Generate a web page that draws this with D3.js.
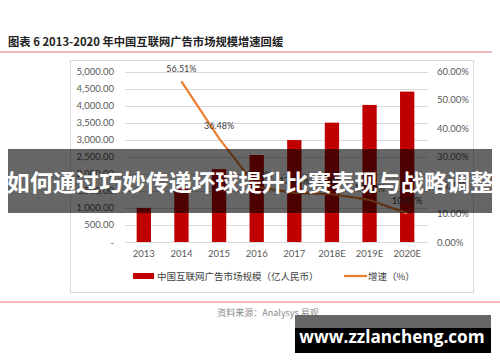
<!DOCTYPE html>
<html>
<head>
<meta charset="utf-8">
<script src="https://cdn.jsdelivr.net/npm/d3@7"></script>
<style>
  body { margin: 0; background: #fff; }
  svg { display: block; }
</style>
</head>
<body>
<svg id="chart" width="500" height="362"></svg>
<script>
// data
const years = ['2013', '2014', '2015', '2016', '2017', '2018E', '2019E', '2020E'];
const marketSize = [1000, 1565, 2136, 2550, 2990, 3500, 4020, 4410];
const growthYears = ['2014', '2015', '2016', '2017', '2018E', '2019E', '2020E'];
const growth = [56.51, 36.48, 19.40, 17.30, 16.80, 14.80, 10.07];
const leftTicks = [0, 500, 1000, 1500, 2000, 2500, 3000, 3500, 4000, 4500, 5000];
const rightTicks = [0, 10, 20, 30, 40, 50, 60];

const title = '图表 6 2013-2020 年中国互联网广告市场规模增速回缓';
const legendBar = '中国互联网广告市场规模（亿人民币）';
const legendLine = '增速（%）';
const source = '资料来源：Analysys 易观';
const banner = '如何通过巧妙传递坏球提升比赛表现与战略调整';
const site = 'www.zzlancheng.com';

const svg = d3.select('#chart');
const numFont = 'Lato, "Open Sans", sans-serif';
const cjkFont = '"Noto Sans CJK SC", sans-serif';

// header
svg.append('text')
    .attr('x', 8).attr('y', 46)
    .attr('font-family', cjkFont).attr('font-weight', 'bold')
    .attr('font-size', 11.3).attr('fill', '#222')
    .text(title);
svg.append('line')
    .attr('x1', 0).attr('x2', 492).attr('y1', 52).attr('y2', 52)
    .attr('stroke', '#e0737c').attr('stroke-width', 1.2);

// chart frame
svg.append('rect')
    .attr('x', 70.5).attr('y', 60.5).attr('width', 403).attr('height', 232)
    .attr('fill', 'none').attr('stroke', '#d9d9d9');

const x = d3.scaleBand().domain(years).range([125, 426]).paddingInner(0.62).paddingOuter(0.31);
const yL = d3.scaleLinear().domain([0, 5000]).range([242, 71.5]);
const yR = d3.scaleLinear().domain([0, 60]).range([242, 71.5]);

// gridlines
svg.append('g')
    .selectAll('line')
    .data(leftTicks)
    .join('line')
    .attr('x1', 125).attr('x2', 428)
    .attr('y1', d => Math.round(yL(d)) + 0.5)
    .attr('y2', d => Math.round(yL(d)) + 0.5)
    .attr('stroke', '#d9d9d9');

// axes
const fmtL = d => d === 0 ? '-' : d3.format(',.2f')(d);
const leftAxis = d3.axisLeft(yL).tickValues(leftTicks).tickFormat(fmtL).tickSize(0).tickPadding(0);
svg.append('g')
    .attr('transform', 'translate(114,0)')
    .call(leftAxis)
    .call(g => g.select('.domain').remove())
    .selectAll('text')
    .attr('font-family', numFont).attr('font-size', 9.5).attr('fill', '#595959');

const rightAxis = d3.axisRight(yR).tickValues(rightTicks).tickFormat(d => d3.format('.2f')(d) + '%').tickSize(0).tickPadding(0);
svg.append('g')
    .attr('transform', 'translate(437,0)')
    .call(rightAxis)
    .call(g => g.select('.domain').remove())
    .selectAll('text')
    .attr('font-family', numFont).attr('font-size', 9.5).attr('fill', '#595959');

const bottomAxis = d3.axisBottom(x).tickSize(0).tickPadding(0);
svg.append('g')
    .attr('transform', 'translate(0,250)')
    .call(bottomAxis)
    .call(g => g.select('.domain').remove())
    .selectAll('text')
    .attr('font-family', numFont).attr('font-size', 9.5).attr('fill', '#595959');

// bars
svg.append('g')
    .selectAll('rect')
    .data(marketSize)
    .join('rect')
    .attr('x', (d, i) => x(years[i]))
    .attr('width', x.bandwidth())
    .attr('y', d => yL(d))
    .attr('height', d => yL(0) - yL(d))
    .attr('fill', '#c00000');

// growth line
const line = d3.line()
    .x((d, i) => x(growthYears[i]) + x.bandwidth() / 2)
    .y(d => yR(d));
svg.append('path')
    .datum(growth)
    .attr('d', line)
    .attr('fill', 'none')
    .attr('stroke', '#ed7d31')
    .attr('stroke-width', 2.2)
    .attr('stroke-linejoin', 'round');

svg.append('g')
    .selectAll('text')
    .data(growth)
    .join('text')
    .attr('x', (d, i) => x(growthYears[i]) + x.bandwidth() / 2)
    .attr('y', d => yR(d) - 9)
    .attr('text-anchor', 'middle')
    .attr('font-family', numFont).attr('font-size', 9).attr('fill', '#404040')
    .text(d => d3.format('.2f')(d) + '%');

// legend
svg.append('rect')
    .attr('x', 133).attr('y', 273).attr('width', 21).attr('height', 6)
    .attr('fill', '#c00000');
svg.append('text')
    .attr('x', 157).attr('y', 280)
    .attr('font-family', cjkFont).attr('font-size', 9.5).attr('fill', '#404040')
    .text(legendBar);
svg.append('line')
    .attr('x1', 344).attr('x2', 367).attr('y1', 276).attr('y2', 276)
    .attr('stroke', '#ed7d31').attr('stroke-width', 2.2);
svg.append('text')
    .attr('x', 368).attr('y', 280)
    .attr('font-family', cjkFont).attr('font-size', 9.5).attr('fill', '#404040')
    .text(legendLine);

// footer
svg.append('line')
    .attr('x1', 0).attr('x2', 500).attr('y1', 302).attr('y2', 302)
    .attr('stroke', '#f2a3aa').attr('stroke-width', 1.5);
svg.append('text')
    .attr('x', 268).attr('y', 316)
    .attr('text-anchor', 'middle')
    .attr('font-family', cjkFont).attr('font-size', 9).attr('fill', '#8c8c8c')
    .text(source);

// overlay banner
svg.append('rect')
    .attr('x', 8).attr('y', 149).attr('width', 484).attr('height', 64)
    .attr('fill', '#000').attr('fill-opacity', 0.6);
svg.append('text')
    .attr('x', 250).attr('y', 191)
    .attr('text-anchor', 'middle')
    .attr('font-family', cjkFont).attr('font-weight', 'bold')
    .attr('font-size', 23.2).attr('fill', '#fff')
    .text(banner);

// watermark box
svg.append('rect')
    .attr('x', 295).attr('y', 315).attr('width', 196).attr('height', 38)
    .attr('fill', '#666');
svg.append('rect')
    .attr('x', 295).attr('y', 328).attr('width', 196).attr('height', 25)
    .attr('fill', '#000');
svg.append('text')
    .attr('x', 392).attr('y', 343)
    .attr('text-anchor', 'middle')
    .attr('font-family', '"Open Sans", sans-serif').attr('font-weight', 'bold')
    .attr('font-size', 17.2).attr('fill', '#fff')
    .text(site);
</script>
</body>
</html>
